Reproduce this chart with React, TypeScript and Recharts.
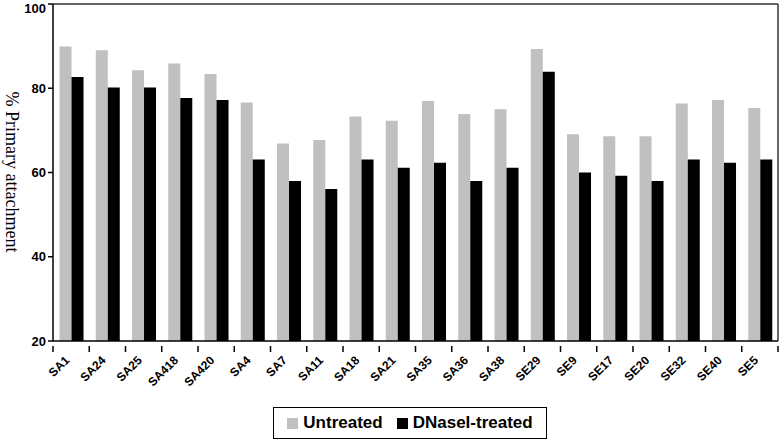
import React from "react"
import { BarChart, Bar, XAxis, YAxis, Legend, CartesianGrid } from "recharts"

const strains = [
  "SA1", "SA24", "SA25", "SA418", "SA420", "SA4", "SA7", "SA11", "SA18", "SA21",
  "SA35", "SA36", "SA38", "SE29", "SE9", "SE17", "SE20", "SE32", "SE40", "SE5",
]
const untreated = [
  89.9, 89.0, 84.3, 85.9, 83.4, 76.6, 66.9, 67.7, 73.3, 72.3,
  77.0, 73.9, 75.0, 89.3, 69.1, 68.6, 68.6, 76.4, 77.2, 75.3,
]
const dnaseTreated = [
  82.7, 80.2, 80.2, 77.7, 77.2, 63.1, 58.0, 56.1, 63.1, 61.1,
  62.3, 58.0, 61.1, 83.9, 60.0, 59.2, 58.0, 63.1, 62.3, 63.1,
]
const yTicks = [20, 40, 60, 80, 100]

const data = strains.map((name, i) => ({
  name,
  untreated: untreated[i],
  dnase: dnaseTreated[i],
}))

const W = 779
const H = 440
const band = (778 - 53) / strains.length

// label under each bar pair, tick mark on the category boundary
const renderStrainTick = (props: any) => {
  const { x, y, payload, index } = props
  const half = band / 2
  return (
    <g transform={`translate(${x},${y})`}>
      <line x1={-half} y1={-1} x2={-half} y2={5} stroke="#000" strokeWidth={1.5} />
      {index === strains.length - 1 && (
        <line x1={half} y1={-1} x2={half} y2={5} stroke="#000" strokeWidth={1.5} />
      )}
      <g transform="translate(-1,14)">
        <text
          x={0}
          y={0}
          textAnchor="end"
          fill="#000"
          fontSize={12}
          fontWeight="bold"
          style={{ transform: "rotate(-45deg)", transformOrigin: "0px 0px", transformBox: "view-box" }}
        >
          {payload.value}
        </text>
      </g>
    </g>
  )
}

const renderYLabel = () => (
  <text
    x={6}
    y={172}
    transform="rotate(90 6 172)"
    textAnchor="middle"
    fontFamily="Liberation Serif, Times New Roman, serif"
    fontSize={18}
    fill="#000"
  >
    % Primary attachment
  </text>
)

const LegendBox = () => (
  <div
    style={{
      border: "1.5px solid #000",
      boxSizing: "border-box",
      height: 32,
      display: "flex",
      alignItems: "center",
      justifyContent: "center",
      gap: 14,
      fontWeight: "bold",
      fontSize: 17,
      background: "#fff",
    }}
  >
    <span style={{ display: "flex", alignItems: "center" }}>
      <span style={{ width: 11, height: 11, background: "#c0c0c0", marginRight: 5 }} />
      Untreated
    </span>
    <span style={{ display: "flex", alignItems: "center" }}>
      <span style={{ width: 11, height: 11, background: "#000", marginRight: 5 }} />
      DNaseI-treated
    </span>
  </div>
)

export default function App() {
  return (
    <div style={{ position: "absolute", left: 0, top: 0, fontFamily: "Liberation Sans, Arial, sans-serif" }}>
      <BarChart
        width={W}
        height={H}
        data={data}
        margin={{ top: 4, right: 1, left: 0, bottom: 1 }}
        barCategoryGap="18%"
        barGap={0}
      >
        <CartesianGrid
          stroke="#333"
          strokeWidth={1.5}
          horizontalCoordinatesGenerator={({ offset }: any) => [offset.top]}
          verticalCoordinatesGenerator={({ offset }: any) => [offset.left + offset.width]}
        />
        <XAxis
          dataKey="name"
          height={66}
          interval={0}
          tickLine={false}
          tickMargin={0}
          stroke="#000"
          strokeWidth={1.5}
          tick={renderStrainTick}
        />
        <YAxis
          width={53}
          domain={[20, 100]}
          ticks={yTicks}
          allowDataOverflow
          tickSize={5}
          stroke="#000"
          strokeWidth={1.5}
          tick={{ fill: "#000", fontSize: 13, fontWeight: "bold" }}
          label={renderYLabel}
        />
        <Legend
          verticalAlign="bottom"
          content={<LegendBox />}
          wrapperStyle={{ left: 273, width: 274 }}
        />
        <Bar dataKey="untreated" name="Untreated" fill="#c0c0c0" isAnimationActive={false} />
        <Bar dataKey="dnase" name="DNaseI-treated" fill="#000" isAnimationActive={false} />
      </BarChart>
    </div>
  )
}
